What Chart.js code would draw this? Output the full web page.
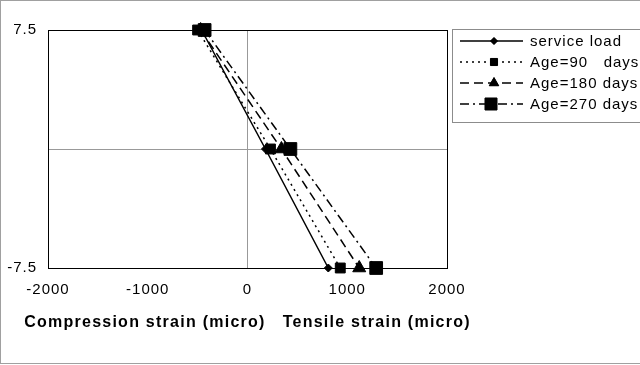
<!DOCTYPE html>
<html><head><meta charset="utf-8">
<script src="https://cdn.jsdelivr.net/npm/chart.js@4/dist/chart.umd.min.js"></script>
<style>
html,body{margin:0;padding:0;background:#fff;}
#wrap{position:relative;width:640px;height:365px;}
#frame{position:absolute;left:0;top:0;width:645px;height:364px;border:1px solid #a0a0a0;box-sizing:border-box;pointer-events:none;}
canvas{display:block;}
</style></head>
<body><div id="wrap"><canvas id="c" width="640" height="365"></canvas><div id="frame"></div></div>
<script>
const depths = [7.5, 0, -7.5];
const seriesNames = ['service load', 'Age=90   days', 'Age=180 days', 'Age=270 days'];
const serviceLoad = [-460, 180, 810];
const age90 = [-500, 230, 930];
const age180 = [-470, 340, 1120];
const age270 = [-430, 430, 1290];
const xTicks = [-2000, -1000, 0, 1000, 2000];
const yTicks = [-7.5, 0, 7.5];
const xTitle = 'Compression strain (micro)   Tensile strain (micro)';

const FONT = '"Liberation Sans", Arial, sans-serif';
const styles = [
  {dash: [], point: 'rectRot', r: 4, lr: 3.5},
  {dash: [2, 4], point: 'rect', r: 7, lr: 5},
  {dash: [9, 5], point: 'triangle', r: 7.5, lr: 5.5},
  {dash: [9, 4, 2, 4], point: 'rect', r: 9, lr: 8.5}
];
const values = [serviceLoad, age90, age180, age270];
const datasets = values.map((v, i) => ({
  label: seriesNames[i],
  data: v.map((x, j) => ({x: x, y: depths[j]})),
  borderColor: '#000', backgroundColor: '#000', borderWidth: 1.5,
  borderDash: styles[i].dash, pointStyle: styles[i].point,
  pointRadius: styles[i].r, pointBorderWidth: 1, pointBackgroundColor: '#000',
  pointBorderColor: '#000', tension: 0, clip: false
}));

const spacing = {
  id: 'spacing',
  beforeLayout(chart) { chart.ctx.letterSpacing = '1px'; },
  beforeDraw(chart) { chart.ctx.letterSpacing = '1px'; }
};

const frameAndLegend = {
  id: 'frameAndLegend',
  afterDatasetsDraw(chart) {
    const ctx = chart.ctx, a = chart.chartArea;
    ctx.save();
    ctx.strokeStyle = '#000'; ctx.lineWidth = 1; ctx.setLineDash([]);
    ctx.strokeRect(Math.round(a.left) + 0.5, Math.round(a.top) + 0.5,
      Math.round(a.right - a.left), Math.round(a.bottom - a.top));
    ctx.restore();
  },
  afterDraw(chart) {
    const ctx = chart.ctx, a = chart.chartArea;
    ctx.save();
    // axis title
    ctx.fillStyle = '#000';
    ctx.letterSpacing = '1.25px';
    ctx.font = 'bold 16px ' + FONT;
    ctx.textAlign = 'center'; ctx.textBaseline = 'middle';
    ctx.fillText(xTitle, (a.left + a.right) / 2, 323);
    // legend
    ctx.strokeStyle = '#8c8c8c'; ctx.lineWidth = 1;
    ctx.strokeRect(452.5, 29.5, 200, 93);
    chart.data.datasets.forEach((ds, i) => {
      const y = 41 + i * 21;
      ctx.strokeStyle = '#000'; ctx.lineWidth = 1.5;
      ctx.setLineDash(ds.borderDash);
      ctx.beginPath(); ctx.moveTo(460, y); ctx.lineTo(523, y); ctx.stroke();
      ctx.setLineDash([]);
      ctx.fillStyle = '#000'; ctx.strokeStyle = '#000'; ctx.lineWidth = 1;
      Chart.helpers.drawPoint(ctx, {pointStyle: ds.pointStyle, radius: styles[i].lr, rotation: 0, borderWidth: 1}, i === 3 ? 491 : 494, y);
      ctx.fill();
      ctx.fillStyle = '#000';
      ctx.letterSpacing = '1px';
      ctx.font = '15px ' + FONT;
      ctx.textBaseline = 'middle'; ctx.textAlign = 'left';
      ctx.fillText(ds.label, 530, y + 1);
    });
    ctx.restore();
  }
};

new Chart(document.getElementById('c'), {
  type: 'line',
  data: {datasets},
  plugins: [spacing, frameAndLegend],
  options: {
    responsive: false, animation: false, devicePixelRatio: 1,
    layout: {padding: {top: 30, right: 193, left: 0, bottom: 33}},
    plugins: {legend: {display: false}, tooltip: {enabled: false}},
    elements: {point: {hoverRadius: 0}},
    scales: {
      x: {
        type: 'linear', min: -2000, max: 2000,
        afterBuildTicks: s => { s.ticks = xTicks.map(v => ({value: v})); },
        ticks: {color: '#000', font: {family: FONT, size: 15}, padding: 13, maxRotation: 0,
          callback: v => String(v)},
        grid: {drawTicks: false, color: ctx => ctx.tick && ctx.tick.value === 0 ? '#999' : 'rgba(0,0,0,0)', lineWidth: 1},
        border: {color: '#000', width: 1},
        title: {display: false},
        afterFit: s => { s.height = 64; }
      },
      y: {
        type: 'linear', min: -7.5, max: 7.5,
        afterBuildTicks: s => { s.ticks = yTicks.map(v => ({value: v})); },
        ticks: {color: '#000', font: {family: FONT, size: 15}, padding: 11,
          callback: v => v === 0 ? '' : String(v)},
        grid: {drawTicks: false, color: ctx => ctx.tick && ctx.tick.value === 0 ? '#999' : 'rgba(0,0,0,0)', lineWidth: 1},
        border: {color: '#000', width: 1},
        afterFit: s => { s.width = 48; }
      }
    }
  }
});
</script></body></html>
